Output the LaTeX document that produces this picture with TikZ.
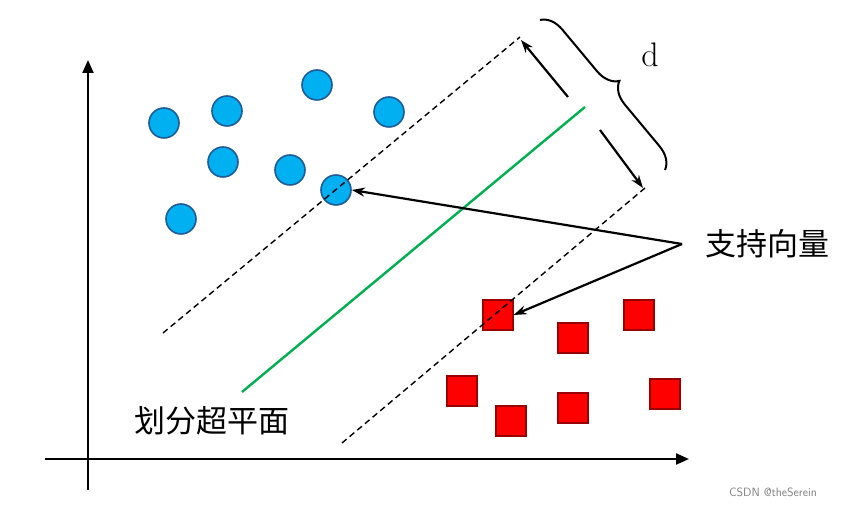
\documentclass[tikz,border=0pt]{standalone}
\usepackage{fontspec}
\newfontfamily\cjk{Noto Sans CJK SC}
\usetikzlibrary{arrows.meta,decorations.pathreplacing}
\definecolor{cblue}{HTML}{00B0F0}
\definecolor{cblueb}{HTML}{1F5C99}
\definecolor{cgreen}{HTML}{00B050}
\tikzset{
  pt/.style={circle,draw=cblueb,fill=cblue,line width=1.6pt,minimum size=30pt,inner sep=0pt},
  sq/.style={draw=red!60!black,fill=red,line width=1.3pt,minimum size=30pt,inner sep=0pt},
  ax/.style={line width=2.2pt,-{Triangle[length=13pt,width=11pt]}},
  dsh/.style={line width=1.4pt,dash pattern=on 6pt off 4pt},
  arr/.style={line width=2.2pt,-{Stealth[length=13pt,width=9pt]}},
  lbl/.style={font=\cjk\fontsize{31}{34}\selectfont,inner sep=0pt}
}
\begin{document}
\begin{tikzpicture}[x=1pt,y=1pt]
\useasboundingbox[fill=white] (0,0) rectangle (847,506);
\coordinate (o1) at (88,16);
\coordinate (o2) at (88,446);
\coordinate (h1) at (45,47);
\coordinate (h2) at (689,47);
\draw[ax] (o1) -- (o2);
\draw[ax] (h1) -- (h2);
\node[pt] (c1) at (164,383) {};
\node[pt] (c2) at (227,395) {};
\node[pt] (c3) at (317,421) {};
\node[pt] (c4) at (389,394) {};
\node[pt] (c5) at (223,344) {};
\node[pt] (c6) at (290,336) {};
\node[pt] (c7) at (336,316) {};
\node[pt] (c8) at (181,287) {};
\node[sq] (s1) at (498,191) {};
\node[sq] (s2) at (573,168) {};
\node[sq] (s3) at (639,191) {};
\node[sq] (s4) at (462,115) {};
\node[sq] (s5) at (511,85) {};
\node[sq] (s6) at (573,98) {};
\node[sq] (s7) at (665,112) {};
\coordinate (g1) at (242,114);
\coordinate (g2) at (585,399);
\draw[cgreen,line width=2.4pt] (g1) -- (g2);
\coordinate (u1) at (163,173);
\coordinate (u2) at (520,469);
\coordinate (l1) at (342,63);
\coordinate (l2) at (645,318);
\draw[dsh] (u1) -- (u2);
\draw[dsh] (l1) -- (l2);
\coordinate (a1) at (568,409);
\coordinate (a2) at (521,466);
\coordinate (b1) at (600,376);
\coordinate (b2) at (643,318);
\draw[arr] (a1) -- (a2);
\draw[arr] (b1) -- (b2);
\coordinate (br1) at (540,486);
\coordinate (br2) at (665,336);
\draw[line width=2pt,decorate,decoration={brace,amplitude=22pt}] (br1) -- (br2);
\node[font=\fontsize{34}{38}\selectfont] (d) at (650,451) {d};
\node[lbl] (sv) at (767,262) {支持向量};
\coordinate (sv0) at (682,262);
\draw[arr] (sv0) -- (c7.east);
\draw[arr] (sv0) -- (s1.east);
\node[lbl] (hp) at (212,85) {划分超平面};
\node[font=\sffamily\fontsize{12}{14}\selectfont,text=gray] (wm) at (773,14) {CSDN @theSerein};
\end{tikzpicture}
\end{document}
